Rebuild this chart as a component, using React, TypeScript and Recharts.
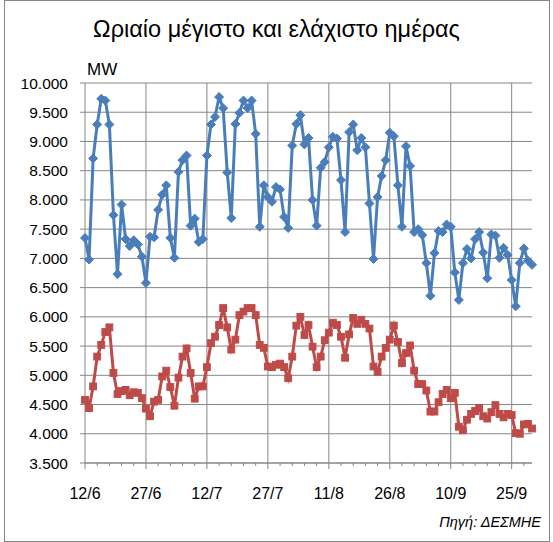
import React from 'react';
import { LineChart, Line, XAxis, YAxis, CartesianGrid, ReferenceLine } from 'recharts';

// daily hourly max / min load (MW), 12/6 .. 30/9
const maxLoad = [
  7350, 6980, 8710, 9290, 9730, 9700, 9290, 7740, 6730, 7920, 7330, 7210, 7310, 7240, 7030,
  6580, 7370, 7360, 7830, 8090, 8250, 7350, 7010, 8480, 8680, 8760, 7560, 7680, 7280, 7330,
  8760, 9290, 9420, 9760, 9570, 8470, 7690, 9300, 9490, 9700, 9570, 9700, 9130, 7540, 8250,
  8050, 7970, 8220, 8180, 7710, 7520, 8930, 9300, 9450, 8950, 9060, 8000, 7560, 8550, 8650,
  8900, 9080, 9050, 8340, 7450, 9160, 9290, 8850, 9060, 8900, 7940, 6990, 8050, 8410, 8680,
  9150, 9090, 8250, 7540, 8920, 8580, 7450, 7500, 7400, 6920, 6360, 7090, 7470, 7450, 7580,
  7540, 6760, 6290, 6920, 7160, 7000, 7330, 7450, 7100, 6660, 7410, 7390, 7010, 7180, 7060,
  6630, 6180, 6920, 7170, 6960, 6890,
];

const minLoad = [
  4580, 4440, 4810, 5320, 5520, 5740, 5820, 5040, 4680, 4730, 4750, 4660, 4710, 4700, 4610,
  4430, 4300, 4550, 4580, 4980, 5080, 4800, 4480, 4960, 5320, 5460, 5040, 4600, 4810, 4810,
  5140, 5550, 5660, 5860, 6150, 5820, 5440, 5610, 6030, 6090, 6150, 6150, 6030, 5520, 5470,
  5150, 5140, 5180, 5200, 5140, 4950, 5320, 5850, 6000, 5690, 5860, 5490, 5140, 5320, 5600,
  5730, 5900, 5860, 5660, 5300, 5700, 5980, 5880, 5950, 5880, 5800, 5150, 5060, 5320, 5470,
  5610, 5850, 5570, 5210, 5380, 5510, 5080, 4850, 4850, 4740, 4380, 4380, 4540, 4680, 4750,
  4610, 4700, 4120, 4060, 4240, 4340, 4390, 4440, 4300, 4260, 4370, 4490, 4340, 4280, 4340,
  4320, 4010, 4000, 4160, 4170, 4090,
];

const majorTicks = [0, 15, 30, 45, 60, 75, 90, 105];
const tickLabels = ['12/6', '27/6', '12/7', '27/7', '11/8', '26/8', '10/9', '25/9'];
const minorTicks = [
  0, 3, 6, 9, 12, 15, 18, 21, 24, 27, 30, 33, 36, 39, 42, 45, 48, 51, 54,
  57, 60, 63, 66, 69, 72, 75, 78, 81, 84, 87, 90, 93, 96, 99, 102, 105, 108,
];
const yTicks = [3500, 4000, 4500, 5000, 5500, 6000, 6500, 7000, 7500, 8000, 8500, 9000, 9500, 10000];

const data = maxLoad.map((v, i) => ({ day: i, max: v, min: minLoad[i] }));

const FONT = '"Liberation Sans", Arial, sans-serif';
const GRID = '#868686';
const BLUE = '#4A7EBB';
const RED = '#BE4B48';

const fmt = (v: number) => String(v).replace(/\B(?=(\d{3})+(?!\d))/g, '.');

const DayTick = (props: any) => {
  const { x, y, payload } = props;
  const idx = majorTicks.indexOf(payload.value);
  return (
    <g>
      <line x1={x} x2={x} y1={y} y2={y + (idx >= 0 ? 6 : 3)} stroke={GRID} strokeWidth={1} />
      {idx >= 0 && (
        <text x={x} y={y + 36} textAnchor="middle" fill="#000" fontSize={16} fontFamily={FONT}>
          {tickLabels[idx]}
        </text>
      )}
    </g>
  );
};

const Diamond = (props: any) => {
  const { cx, cy } = props;
  if (cx == null || cy == null) return null;
  const r = 4.5;
  return (
    <polygon
      points={`${cx},${cy - r} ${cx + r},${cy} ${cx},${cy + r} ${cx - r},${cy}`}
      fill={BLUE}
      stroke={BLUE}
      strokeWidth={1}
    />
  );
};

const Square = (props: any) => {
  const { cx, cy } = props;
  if (cx == null || cy == null) return null;
  const r = 3.4;
  return <rect x={cx - r} y={cy - r} width={2 * r} height={2 * r} fill={RED} stroke={RED} strokeWidth={1} />;
};

export default function App() {
  return (
    <div style={{ position: 'absolute', left: 0, top: 0, width: 553, height: 542, background: '#fff', fontFamily: FONT }}>
      <div
        style={{
          position: 'absolute',
          left: 4,
          top: 0,
          width: 544,
          height: 540,
          border: `1px solid ${GRID}`,
        }}
      />
      <div style={{ position: 'absolute', left: 0, width: 553, top: 16, textAlign: 'center', fontSize: 23.5, color: '#000' }}>
        Ωριαίο μέγιστο και ελάχιστο ημέρας
      </div>
      <div style={{ position: 'absolute', left: 87, top: 60, fontSize: 17, color: '#000' }}>MW</div>
      <div
        style={{
          position: 'absolute',
          right: 12,
          top: 514,
          fontSize: 14.5,
          fontStyle: 'italic',
          color: '#000',
        }}
      >
        Πηγή: ΔΕΣΜΗΕ
      </div>
      <div style={{ position: 'absolute', left: 0, top: 0 }}>
        <LineChart width={553} height={542} data={data} margin={{ top: 83, right: 21, bottom: 0, left: 0 }}>
          <CartesianGrid vertical={false} stroke={GRID} strokeWidth={1} />
          {majorTicks.slice(1).map((t) => (
            <ReferenceLine key={t} x={t} stroke={GRID} strokeWidth={1} />
          ))}
          <XAxis
            dataKey="day"
            type="number"
            domain={[0, 110]}
            ticks={minorTicks}
            interval={0}
            tickSize={0}
            tickMargin={0}
            tickLine={false}
            tick={<DayTick />}
            axisLine={{ stroke: GRID }}
            height={79}
          />
          <YAxis
            domain={[3500, 10000]}
            ticks={yTicks}
            interval={0}
            width={85}
            tickFormatter={fmt}
            tickSize={5}
            tickMargin={12}
            tickLine={{ stroke: GRID }}
            axisLine={{ stroke: GRID }}
            tick={{ fill: '#000', fontSize: 15.5, fontFamily: FONT }}
          />
          <Line
            dataKey="max"
            stroke={BLUE}
            strokeWidth={3}
            dot={<Diamond />}
            activeDot={false}
            isAnimationActive={false}
          />
          <Line
            dataKey="min"
            stroke={RED}
            strokeWidth={3}
            dot={<Square />}
            activeDot={false}
            isAnimationActive={false}
          />
        </LineChart>
      </div>
    </div>
  );
}
